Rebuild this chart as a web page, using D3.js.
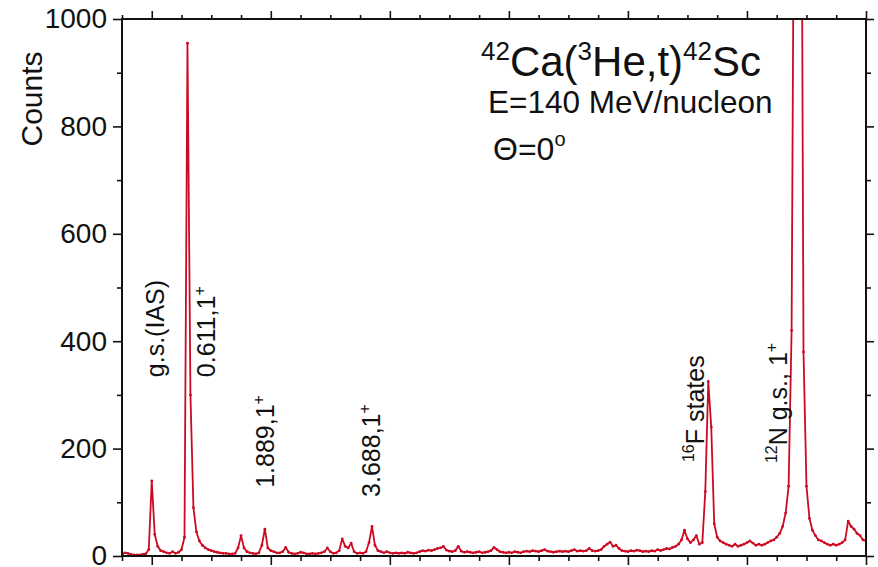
<!DOCTYPE html>
<html>
<head>
<meta charset="utf-8">
<script src="https://cdnjs.cloudflare.com/ajax/libs/d3/7.8.5/d3.min.js"></script>
<style>
  body { margin: 0; background: #fff; }
  svg text { font-family: "Liberation Sans", Arial, Helvetica, sans-serif; fill: #111; }
</style>
</head>
<body>
<div class="canvas"></div>
<script>
// excitation energy grid (MeV), 0.05 MeV per channel, from -0.5 to 12.0
const eStart = -0.5;
const eStep = 0.05;

// counts per channel
const counts = [
  3, 6, 5, 3, 2, 2, 2, 3, 4, 12,           // -0.50 .. -0.05
  140, 40, 18, 10, 8, 6, 5, 8, 5, 7,       // 0.00 .. 0.45
  12, 35, 955, 300, 90, 45, 28, 20, 15, 12, // 0.50 .. 0.95
  10, 8, 7, 6, 5, 5, 4, 4, 5, 15,          // 1.00 .. 1.45
  38, 15, 8, 6, 5, 4, 6, 20, 50, 15,       // 1.50 .. 1.95
  10, 8, 6, 6, 8, 16, 7, 5, 4, 5,          // 2.00 .. 2.45
  7, 6, 4, 4, 5, 4, 5, 6, 8, 15,           // 2.50 .. 2.95
  8, 5, 6, 10, 32, 18, 15, 24, 8, 5,       // 3.00 .. 3.45
  6, 5, 8, 25, 55, 20, 10, 8, 6, 8,        // 3.50 .. 3.95
  6, 5, 6, 5, 6, 5, 7, 6, 5, 6,            // 4.00 .. 4.45
  8, 10, 9, 11, 10, 12, 14, 15, 18, 11,    // 4.50 .. 4.95
  9, 8, 10, 18, 9, 7, 8, 7, 6, 7,          // 5.00 .. 5.45
  8, 6, 7, 8, 10, 16, 12, 8, 7, 6,         // 5.50 .. 5.95
  7, 6, 8, 7, 6, 8, 9, 8, 10, 9,           // 6.00 .. 6.45
  8, 10, 12, 9, 8, 7, 8, 9, 8, 9,          // 6.50 .. 6.95
  8, 10, 12, 9, 10, 9, 10, 14, 10, 9,      // 7.00 .. 7.45
  10, 12, 18, 22, 26, 18, 20, 14, 10, 9,   // 7.50 .. 7.95
  8, 10, 9, 11, 10, 8, 9, 8, 10, 9,        // 8.00 .. 8.45
  12, 10, 12, 14, 13, 16, 18, 22, 30, 48,  // 8.50 .. 8.95
  32, 25, 30, 38, 22, 25, 120, 325, 240, 60, // 9.00 .. 9.45
  35, 28, 25, 22, 20, 18, 22, 18, 20, 22,  // 9.50 .. 9.95
  25, 28, 24, 20, 22, 20, 22, 25, 28, 30,  // 10.00 .. 10.45
  35, 42, 55, 80, 130, 420, 1500, 2500, 1800, 380, // 10.50 .. 10.95
  130, 70, 48, 38, 30, 28, 25, 22, 20, 22, // 11.00 .. 11.45
  20, 22, 25, 30, 65, 55, 50, 42, 38, 30,  // 11.50 .. 11.95
  28                                       // 12.00
];

const yTicksMajor = [0, 200, 400, 600, 800, 1000];
const yTicksMinor = [100, 300, 500, 700, 900];
const xTicksMajor = [0, 2, 4, 6, 8, 10, 12];
const xTicksMinor = [-0.5, 0.5, 1, 1.5, 2.5, 3, 3.5, 4.5, 5, 5.5, 6.5, 7, 7.5, 8.5, 9, 9.5, 10.5, 11, 11.5];

// peak labels: energy of the text foot, count level where the text starts, main text, superscripts
const peakLabels = [
  { e: 0.20, c: 333, pre: '', text: 'g.s.(IAS)', sup: '' },
  { e: 1.07, c: 333, pre: '', text: '0.611,1', sup: '+' },
  { e: 2.06, c: 127, pre: '', text: '1.889,1', sup: '+' },
  { e: 3.84, c: 110, pre: '', text: '3.688,1', sup: '+' },
  { e: 9.27, c: 175, pre: '16', text: 'F states', sup: '' },
  { e: 10.68, c: 173, pre: '12', text: 'N g.s., 1', sup: '+' }
];

const data = counts.map((c, i) => ({ e: eStart + i * eStep, c: c }));

const width = 878, height = 567;
const margin = { top: 19, right: 12, bottom: 11, left: 122 };
const graphWidth = width - margin.left - margin.right;
const graphHeight = height - margin.top - margin.bottom;

const svg = d3.select('.canvas')
  .append('svg')
  .attr('width', width)
  .attr('height', height);

const graph = svg.append('g')
  .attr('transform', `translate(${margin.left}, ${margin.top})`);

const x = d3.scaleLinear().domain([-0.5, 12]).range([0, graphWidth]);
const y = d3.scaleLinear().domain([0, 1000]).range([graphHeight, 0]);

graph.append('clipPath')
  .attr('id', 'plot-clip')
  .append('rect')
  .attr('width', graphWidth)
  .attr('height', graphHeight);

const red = '#cc0a22';

const line = d3.line()
  .x(d => x(d.e))
  .y(d => y(d.c));

const spectrum = graph.append('g').attr('clip-path', 'url(#plot-clip)');

spectrum.append('path')
  .datum(data)
  .attr('fill', 'none')
  .attr('stroke', red)
  .attr('stroke-width', 1.8)
  .attr('stroke-linejoin', 'round')
  .attr('d', line);

spectrum.selectAll('circle')
  .data(data)
  .enter()
  .append('circle')
    .attr('cx', d => x(d.e))
    .attr('cy', d => y(d.c))
    .attr('r', 1.4)
    .attr('fill', red);

// axes on all four sides
function styleAxis(g) {
  g.selectAll('.domain').remove();
  g.selectAll('line').attr('stroke', '#111').attr('stroke-width', 1.6);
}

const leftMajor = d3.axisLeft(y).tickValues(yTicksMajor).tickSize(9).tickPadding(6).tickFormat(d3.format('d'));
const leftMinor = d3.axisLeft(y).tickValues(yTicksMinor).tickSize(5).tickFormat('');
const rightMajor = d3.axisRight(y).tickValues(yTicksMajor).tickSize(8).tickFormat('');
const rightMinor = d3.axisRight(y).tickValues(yTicksMinor).tickSize(5).tickFormat('');
const bottomMajor = d3.axisBottom(x).tickValues(xTicksMajor).tickSize(9).tickFormat('');
const bottomMinor = d3.axisBottom(x).tickValues(xTicksMinor).tickSize(5).tickFormat('');
const topMajor = d3.axisTop(x).tickValues(xTicksMajor).tickSize(8).tickFormat('');
const topMinor = d3.axisTop(x).tickValues(xTicksMinor).tickSize(4).tickFormat('');

graph.append('g').call(leftMajor).call(styleAxis)
  .selectAll('text')
  .style('font-size', '28px')
  .style('font-family', '"Liberation Sans", Arial, sans-serif')
  .attr('fill', '#111');
graph.append('g').call(leftMinor).call(styleAxis);
graph.append('g').attr('transform', `translate(${graphWidth},0)`).call(rightMajor).call(styleAxis);
graph.append('g').attr('transform', `translate(${graphWidth},0)`).call(rightMinor).call(styleAxis);
graph.append('g').attr('transform', `translate(0,${graphHeight})`).call(bottomMajor).call(styleAxis);
graph.append('g').attr('transform', `translate(0,${graphHeight})`).call(bottomMinor).call(styleAxis);
graph.append('g').call(topMajor).call(styleAxis);
graph.append('g').call(topMinor).call(styleAxis);

// frame
graph.append('rect')
  .attr('width', graphWidth)
  .attr('height', graphHeight)
  .attr('fill', 'none')
  .attr('stroke', '#111')
  .attr('stroke-width', 2);

// y label
svg.append('text')
  .attr('transform', 'translate(42, 99) rotate(-90)')
  .attr('text-anchor', 'middle')
  .style('font-size', '30px')
  .text('Counts');

// reaction title
const title = svg.append('text')
  .attr('x', 621)
  .attr('y', 76)
  .attr('text-anchor', 'middle')
  .style('font-size', '42px');
title.append('tspan').attr('font-size', '26px').attr('dy', -16).text('42');
title.append('tspan').attr('dy', 16).text('Ca(');
title.append('tspan').attr('font-size', '26px').attr('dy', -16).text('3');
title.append('tspan').attr('dy', 16).text('He,t)');
title.append('tspan').attr('font-size', '26px').attr('dy', -16).text('42');
title.append('tspan').attr('dy', 16).text('Sc');

svg.append('text')
  .attr('x', 488)
  .attr('y', 113)
  .style('font-size', '31.5px')
  .text('E=140 MeV/nucleon');

const theta = svg.append('text')
  .attr('x', 493)
  .attr('y', 160)
  .style('font-size', '32px');
theta.append('tspan').text('\u0398=0');
theta.append('tspan').attr('font-size', '20px').attr('dy', -14).text('o');

// peak labels, rotated
peakLabels.forEach(p => {
  const t = graph.append('text')
    .attr('transform', `translate(${x(p.e)}, ${y(p.c)}) rotate(-90)`)
    .style('font-size', '25px');
  if (p.pre) {
    t.append('tspan').attr('font-size', '16px').attr('dy', -10).text(p.pre);
    t.append('tspan').attr('dy', 10).text(p.text);
  } else {
    t.append('tspan').text(p.text);
  }
  if (p.sup) {
    t.append('tspan').attr('font-size', '16px').attr('dy', -10).text(p.sup);
  }
});
</script>
</body>
</html>
